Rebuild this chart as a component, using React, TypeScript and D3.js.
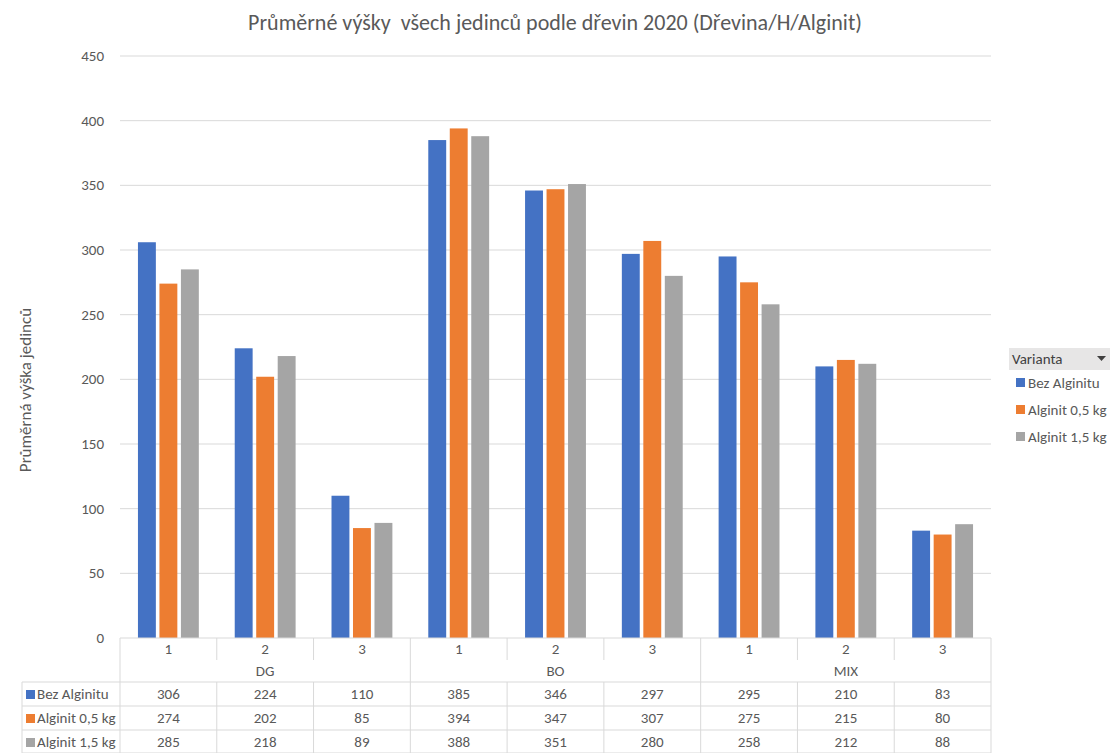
import React from "react";
import * as d3 from "d3";

const groups = ["DG", "BO", "MIX"];
const subCats = ["1", "2", "3"];
const seriesNames = ["Bez Alginitu", "Alginit 0,5 kg", "Alginit 1,5 kg"];
const seriesColors = ["#4472C4", "#ED7D31", "#A5A5A5"];
const bezAlginitu = [306, 224, 110, 385, 346, 297, 295, 210, 83];
const alginit05 = [274, 202, 85, 394, 347, 307, 275, 215, 80];
const alginit15 = [285, 218, 89, 388, 351, 280, 258, 212, 88];
const yTicks = [0, 50, 100, 150, 200, 250, 300, 350, 400, 450];

const seriesValues = [bezAlginitu, alginit05, alginit15];

export default function App() {
  const W = 1110, H = 753;
  const left = 120, right = 991, top = 56, bottom = 638;
  const font = "Calibri, Carlito, Lato, 'Open Sans', sans-serif";
  const txt = "#595959";
  const grid = "#D9D9D9";
  const fs = 15;

  const cols = groups.flatMap((g) => subCats.map((s) => `${g}-${s}`));
  const x = d3.scaleBand().domain(cols).range([left, right]).paddingInner(0).paddingOuter(0);
  const y = d3.scaleLinear().domain([0, 450]).range([bottom, top]);
  const colW = x.bandwidth();
  const barW = colW * 0.185;
  const barGap = barW * 0.2;
  const innerW = barW * 3 + barGap * 2;

  const rowCat = [bottom, 660];
  const rowGrp = [660, 682];
  const rowS = [682, 706, 730, 753];

  return (
    <svg width={W} height={H} style={{ position: "absolute", left: 0, top: 0, background: "#fff" }} fontFamily={font}>
      <rect x={0} y={0} width={W} height={H} fill="#fff" />
      <text x={555} y={30} textAnchor="middle" fontSize={22} fill={txt} style={{ whiteSpace: "pre" }} xmlSpace="preserve">
        {"Průměrné výšky  všech jedinců podle dřevin 2020 (Dřevina/H/Alginit)"}
      </text>
      {/* gridlines */}
      {yTicks.map((t) => (
        <g key={t}>
          {t > 0 && <line x1={left} x2={right} y1={y(t)} y2={y(t)} stroke={grid} strokeWidth={1} />}
          <text x={104} y={y(t) + 5} textAnchor="end" fontSize={fs} fill={txt}>{t}</text>
        </g>
      ))}
      <text transform={`translate(31,${390}) rotate(-90)`} textAnchor="middle" fontSize={17} fill={txt}>
        Průměrná výška jedinců
      </text>
      {/* bars */}
      {seriesValues.map((vals, si) =>
        vals.map((v, ci) => {
          const x0 = (x(cols[ci]) as number) + (colW - innerW) / 2 + si * (barW + barGap);
          return <rect key={`${si}-${ci}`} x={x0} y={y(v)} width={barW} height={y(0) - y(v)} fill={seriesColors[si]} />;
        })
      )}
      {/* table */}
      <line x1={left} x2={right} y1={bottom} y2={bottom} stroke={grid} />
      {cols.map((c, i) => (
        <text key={c} x={(x(c) as number) + colW / 2} y={rowCat[0] + 16} textAnchor="middle" fontSize={fs} fill={txt}>
          {subCats[i % 3]}
        </text>
      ))}
      {cols.map((c) => (
        <line key={"v" + c} x1={x(c) as number} x2={x(c) as number} y1={rowCat[0]} y2={rowCat[1]} stroke={grid} />
      ))}
      <line x1={right} x2={right} y1={rowCat[0]} y2={H} stroke={grid} />
      {groups.map((g, gi) => {
        const gx = x(cols[gi * 3]) as number;
        return (
          <g key={g}>
            <line x1={gx} x2={gx} y1={rowGrp[0]} y2={rowGrp[1]} stroke={grid} />
            <text x={gx + colW * 1.5} y={rowGrp[0] + 16} textAnchor="middle" fontSize={fs} fill={txt}>{g}</text>
          </g>
        );
      })}
      {[0, 1, 2, 3].map((r) => (
        <line key={"h" + r} x1={22} x2={right} y1={rowS[r]} y2={rowS[r]} stroke={grid} />
      ))}
      <line x1={22} x2={22} y1={rowS[0]} y2={H} stroke={grid} />
      {cols.map((c) => (
        <line key={"sv" + c} x1={x(c) as number} x2={x(c) as number} y1={rowS[0]} y2={H} stroke={grid} />
      ))}
      {seriesValues.map((vals, si) => (
        <g key={"row" + si}>
          <rect x={26} y={rowS[si] + 8} width={9} height={9} fill={seriesColors[si]} />
          <text x={37} y={rowS[si] + 17} fontSize={fs} fill={txt}>{seriesNames[si]}</text>
          {vals.map((v, ci) => (
            <text key={ci} x={(x(cols[ci]) as number) + colW / 2} y={rowS[si] + 17} textAnchor="middle" fontSize={fs} fill={txt}>
              {v}
            </text>
          ))}
        </g>
      ))}
      {/* legend */}
      <rect x={1009} y={348} width={101} height={22} fill="#E7E6E6" />
      <text x={1012} y={364} fontSize={fs} fill="#404040">Varianta</text>
      <path d="M1097,356 L1106,356 L1101.5,361 Z" fill="#404040" />
      {seriesNames.map((n, i) => (
        <g key={n}>
          <rect x={1016} y={378 + i * 27} width={9} height={9} fill={seriesColors[i]} />
          <text x={1028} y={388 + i * 27} fontSize={fs} fill={txt}>{n}</text>
        </g>
      ))}
    </svg>
  );
}
